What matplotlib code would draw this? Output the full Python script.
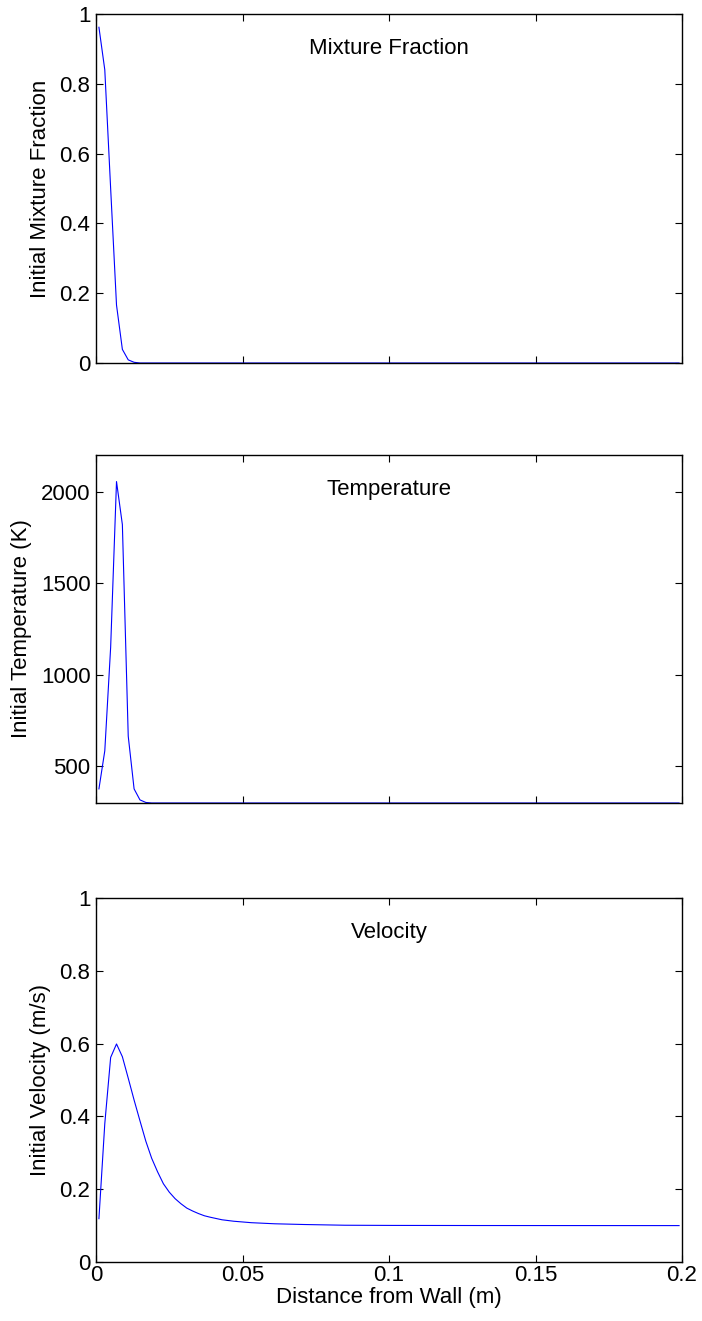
import matplotlib
matplotlib.use("Agg")
import matplotlib.pyplot as plt

plt.rcParams['font.family'] = ['Liberation Sans', 'DejaVu Sans']

# Distance from the wall (m) and the initial profiles sampled along it
x_mix = [0.001, 0.003, 0.005, 0.007, 0.009, 0.011, 0.013, 0.015, 0.199]
mixture_fraction = [0.962, 0.840, 0.500, 0.166, 0.039, 0.009, 0.002, 0.0, 0.0]

x_temp = [0.001, 0.003, 0.005, 0.007, 0.009, 0.011, 0.013, 0.015, 0.017,
          0.019, 0.199]
temperature = [377, 585, 1150, 2055, 1820, 665, 377, 317, 303, 300, 300]

x_vel = [0.001, 0.003, 0.005, 0.007, 0.009, 0.011, 0.013, 0.015, 0.017,
         0.019, 0.021, 0.023, 0.025, 0.027, 0.029, 0.031, 0.033, 0.035,
         0.037, 0.039, 0.043, 0.047, 0.053, 0.061, 0.071, 0.085, 0.101,
         0.131, 0.161, 0.199]
velocity = [0.119, 0.380, 0.562, 0.599, 0.564, 0.505, 0.445, 0.388, 0.332,
            0.285, 0.248, 0.215, 0.192, 0.174, 0.160, 0.148, 0.140, 0.133,
            0.127, 0.123, 0.116, 0.112, 0.108, 0.105, 0.103, 0.101, 0.1005,
            0.1002, 0.1001, 0.100]

x_ticks = [0, 0.05, 0.1, 0.15, 0.2]
x_tick_labels = ['0', '0.05', '0.1', '0.15', '0.2']
frac_ticks = [0, 0.2, 0.4, 0.6, 0.8, 1]
frac_tick_labels = ['0', '0.2', '0.4', '0.6', '0.8', '1']
temp_ticks = [500, 1000, 1500, 2000]
temp_tick_labels = ['500', '1000', '1500', '2000']

W, H = 702, 1321
fig = plt.figure(figsize=(W / 100, H / 100), dpi=100)

def px_axes(left, top, right, bottom):
    return fig.add_axes([left / W, 1 - bottom / H, (right - left) / W,
                         (bottom - top) / H])

ax1 = px_axes(96, 14, 682, 363)
ax2 = px_axes(96, 455, 682, 803)
ax3 = px_axes(96, 898, 682, 1262)

panels = [
    (ax1, x_mix, mixture_fraction, (0, 1), frac_ticks, frac_tick_labels,
     'Initial Mixture Fraction', 'Mixture Fraction'),
    (ax2, x_temp, temperature, (300, 2200), temp_ticks, temp_tick_labels,
     'Initial Temperature (K)', 'Temperature'),
    (ax3, x_vel, velocity, (0, 1), frac_ticks, frac_tick_labels,
     'Initial Velocity (m/s)', 'Velocity'),
]

fs = 16
for ax, xs, ys, ylim, yt, ytl, ylab, title in panels:
    ax.plot(xs, ys, color='#0000ff', linewidth=0.8, clip_on=False)
    ax.set_xlim(0, 0.2)
    ax.set_ylim(*ylim)
    ax.set_xticks(x_ticks)
    ax.set_yticks(yt)
    ax.set_yticklabels(ytl)
    ax.tick_params(direction='in', length=5, width=0.8, top=True,
                   right=True, labelsize=fs, pad=4)
    ax.tick_params(axis='x', pad=2)
    for s in ax.spines.values():
        s.set_linewidth(1.0)
    ax.set_ylabel(ylab, fontsize=fs, labelpad=6)
    ax.annotate(title, xy=(0.5, 1), xycoords='axes fraction',
                xytext=(0, -28.5), textcoords='offset points',
                ha='center', va='baseline', fontsize=fs)
    if ax is ax3:
        ax.set_xticklabels(x_tick_labels)
    else:
        ax.set_xticklabels([])

ax3.set_xlabel('Distance from Wall (m)', fontsize=fs, labelpad=1)

fig.savefig('out.png', dpi=100)
